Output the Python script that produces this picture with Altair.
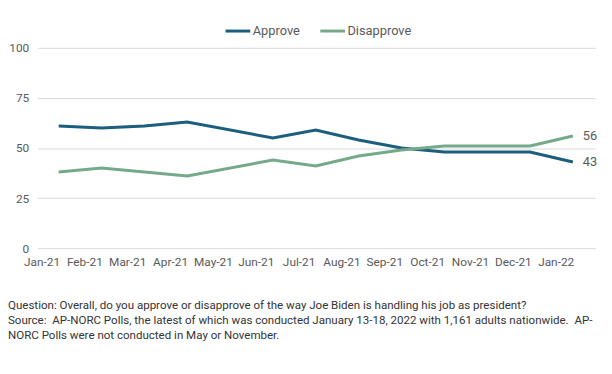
import altair as alt
import pandas as pd

# ---- data ----
months = ["Jan-21", "Feb-21", "Mar-21", "Apr-21", "May-21", "Jun-21", "Jul-21",
          "Aug-21", "Sep-21", "Oct-21", "Nov-21", "Dec-21", "Jan-22"]
poll_month_index = [0, 1, 2, 3, 5, 6, 7, 8, 9, 11, 12]   # no polls in May or November
approve = [61, 60, 61, 63, 55, 59, 54, 50, 48, 48, 43]
disapprove = [38, 40, 38, 36, 44, 41, 46, 49, 51, 51, 56]
series_names = ["Approve", "Disapprove"]
series_colors = ["#1b5e7d", "#74a98a"]

footnote_lines = [
    "Question: Overall, do you approve or disapprove of the way Joe Biden is handling his job as president?",
    "Source:\u00a0 AP-NORC Polls, the latest of which was conducted January 13-18, 2022 with 1,161 adults nationwide.\u00a0 AP-",
    "NORC Polls were not conducted in May or November.",
]

POLL_OFFSET = 0.4  # polls plotted mid-month, labels at month start

rows = []
for m, a, d in zip(poll_month_index, approve, disapprove):
    rows.append({"m": m, "series": "Approve", "value": a})
    rows.append({"m": m, "series": "Disapprove", "value": d})
df = pd.DataFrame(rows)

label_expr = "[" + ",".join("'" + s + "'" for s in months) + "][datum.value]"

x_enc = alt.X(
    "xpos:Q",
    scale=alt.Scale(domain=[-0.092, 12.92], nice=False, zero=False),
    axis=alt.Axis(values=list(range(len(months))), labelExpr=label_expr, grid=False,
                  ticks=False, domain=False, labelFontSize=12, labelColor="#595959",
                  labelPadding=9, labelFlush=False, labelOverlap=False, title=None,
                  labelFont="Roboto"),
)
y_enc = alt.Y(
    "value:Q",
    scale=alt.Scale(domain=[0, 100], nice=False),
    axis=alt.Axis(values=[0, 25, 50, 75, 100], grid=True, gridColor="#d9d9d9",
                  gridWidth=1, ticks=False, domain=False, labelFontSize=12,
                  labelColor="#595959", labelPadding=9, title=None, labelFont="Roboto"),
)
color_enc = alt.Color(
    "series:N",
    scale=alt.Scale(domain=series_names, range=series_colors),
    legend=alt.Legend(orient="none", legendX=189, legendY=-31, direction="horizontal",
                      title=None, symbolType="stroke", symbolSize=625,
                      symbolStrokeWidth=3, labelOffset=1, columnPadding=14,
                      labelFontSize=13, labelColor="#595959", labelFont="Roboto"),
)

base = alt.Chart(df).transform_calculate(xpos=f"datum.m + {POLL_OFFSET}")

lines = base.mark_line(strokeWidth=3).encode(x=x_enc, y=y_enc, color=color_enc)

end_labels = base.transform_filter(f"datum.m == {poll_month_index[-1]}").mark_text(
    align="left", baseline="middle", dx=10, fontSize=13, color="#595959", font="Roboto"
).encode(x="xpos:Q", y="value:Q", text="value:Q")

foot_df = pd.DataFrame({"t": ["\n".join(footnote_lines)]})
footnote = alt.Chart(foot_df).mark_text(
    align="left", baseline="top", fontSize=11.7, lineHeight=15, lineBreak="\n",
    color="#333333", font="Roboto"
).encode(x=alt.value(-30), y=alt.value(256), text="t:N")

chart = alt.layer(lines, end_labels, footnote).properties(
    width=565, height=203,
    autosize=alt.AutoSizeParams(type="none"),
    padding={"left": 30, "top": 38, "right": 9, "bottom": 111},
    background="white",
).configure_view(stroke=None)

chart.save("out.html", embed_options={"renderer": "svg", "actions": False})
